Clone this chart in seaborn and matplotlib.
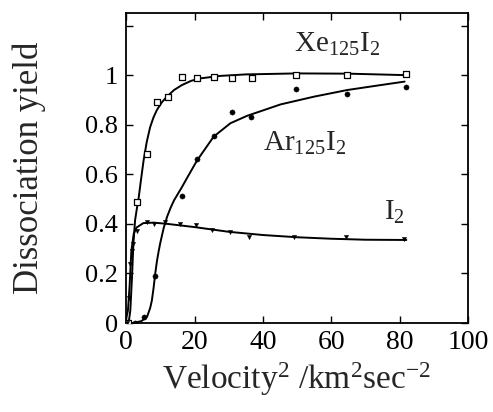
import matplotlib
matplotlib.use("Agg")
import matplotlib.pyplot as plt
import seaborn as sns
import pandas as pd

# measured points (velocity^2, yield)
xe_x = [0.5, 3.1, 6.1, 9.0, 12.2, 16.3, 20.7, 25.6, 31.0, 36.9, 49.6, 64.7, 81.8]
xe_y = [0.0, 0.49, 0.68, 0.893, 0.912, 0.994, 0.99, 0.994, 0.99, 0.99, 1.0, 1.0, 1.005]

ar_x = [2.6, 5.1, 8.3, 16.3, 20.7, 25.6, 31.0, 36.6, 49.8, 64.7, 81.8]
ar_y = [0.0, 0.025, 0.19, 0.512, 0.66, 0.754, 0.853, 0.832, 0.943, 0.924, 0.954]

i2_x = [0.2, 0.7, 1.2, 1.7, 2.1, 3.1, 6.1, 8.0, 11.4, 15.8, 20.4, 25.1, 30.5, 35.9, 49.0, 64.2, 81.3]
i2_y = [0.0, 0.1, 0.24, 0.29, 0.32, 0.37, 0.408, 0.40, 0.408, 0.399, 0.395, 0.375, 0.368, 0.348, 0.345, 0.348, 0.337]

# fitted curves
xe_fit_x = [0.7, 1.2, 1.7, 2.1, 2.6, 3.1, 3.6, 4.3, 5.1, 6.0, 7.0, 8.0, 9.0, 10.4, 11.9,
            14.0, 16.3, 19.0, 21.7, 27.6, 35, 50, 65, 82]
xe_fit_y = [0.0, 0.05, 0.186, 0.32, 0.415, 0.46, 0.5, 0.575, 0.657, 0.73, 0.79, 0.83, 0.86, 0.89, 0.913,
            0.94, 0.96, 0.977, 0.987, 0.997, 1.003, 1.007, 1.006, 1.0]

ar_fit_x = [2.1, 4.5, 6.1, 7.0, 7.5, 8.0, 8.5, 9.0, 9.5, 10.0, 11.0, 12.0, 13.0, 14.0, 15.3, 16.3,
            17.8, 20.7, 25.6, 30.5, 35.4, 45.2, 54.9, 64.7, 74.5, 81.5]
ar_fit_y = [0.0, 0.008, 0.025, 0.06, 0.09, 0.14, 0.2, 0.25, 0.29, 0.325, 0.385, 0.43, 0.465, 0.495, 0.525, 0.548,
            0.585, 0.655, 0.752, 0.806, 0.836, 0.882, 0.913, 0.94, 0.96, 0.974]

i2_fit_x = [-0.3, 0.5, 1.0, 1.5, 2.2, 3.0, 5.0, 8.0, 12, 20, 30, 40, 50, 60, 70, 82]
i2_fit_y = [0.0, 0.05, 0.15, 0.29, 0.36, 0.385, 0.403, 0.405, 0.40, 0.387, 0.368, 0.355, 0.346, 0.34, 0.336, 0.335]

x_ticks = [0, 20, 40, 60, 80, 100]
y_ticks = [0, 0.2, 0.4, 0.6, 0.8, 1.0, 1.2]
y_tick_labels = ["0", "0.2", "0.4", "0.6", "0.8", "1", ""]

sns.set_theme(style="ticks")
plt.rcParams["font.family"] = ["Liberation Serif", "DejaVu Serif"]
plt.rcParams["mathtext.fontset"] = "custom"
plt.rcParams["mathtext.rm"] = "Liberation Serif"
plt.rcParams["mathtext.it"] = "Liberation Serif:italic"

fig = plt.figure(figsize=(4.93, 4.12), dpi=100)
ax = fig.add_axes([0.256, 0.216, 0.693, 0.752])

for fx, fy in [(xe_fit_x, xe_fit_y), (ar_fit_x, ar_fit_y), (i2_fit_x, i2_fit_y)]:
    sns.lineplot(x=fx, y=fy, ax=ax, color="black", lw=1.4, sort=False, estimator=None)

sns.scatterplot(x=xe_x, y=xe_y, ax=ax, marker="s", s=22, facecolor="white",
                edgecolor="black", linewidth=0.9, zorder=3)
sns.scatterplot(x=ar_x, y=ar_y, ax=ax, marker="o", s=14, color="black",
                edgecolor="black", zorder=3)
sns.scatterplot(x=i2_x, y=i2_y, ax=ax, marker="v", s=10, color="black",
                edgecolor="black", zorder=3)

ax.set_xlim(0, 100)
ax.set_ylim(0, 1.25)
ax.set_xticks(x_ticks)
ax.set_yticks(y_ticks)
ax.set_yticklabels(y_tick_labels)
ax.tick_params(direction="in", length=5, width=1, top=True, right=True,
               colors="black", labelsize=19, pad=6)
ax.tick_params(axis="x", labelsize=20, pad=5)
for sp in ax.spines.values():
    sp.set_visible(True)
    sp.set_linewidth(1.3)
    sp.set_color("black")

ax.set_xlabel(r"Velocity$^2$ /km$^2$sec$^{-2}$", fontsize=24, labelpad=4)
ax.set_ylabel("Dissociation yield", fontsize=25, labelpad=28)

ax.text(49, 1.094, r"Xe$_{125}$I$_2$", fontsize=21, ha="left", va="baseline")
ax.text(39.9, 0.694, r"Ar$_{125}$I$_2$", fontsize=21, ha="left", va="baseline")
ax.text(75.4, 0.415, r"I$_2$", fontsize=21, ha="left", va="baseline")

fig.savefig("out.png", dpi=100)
